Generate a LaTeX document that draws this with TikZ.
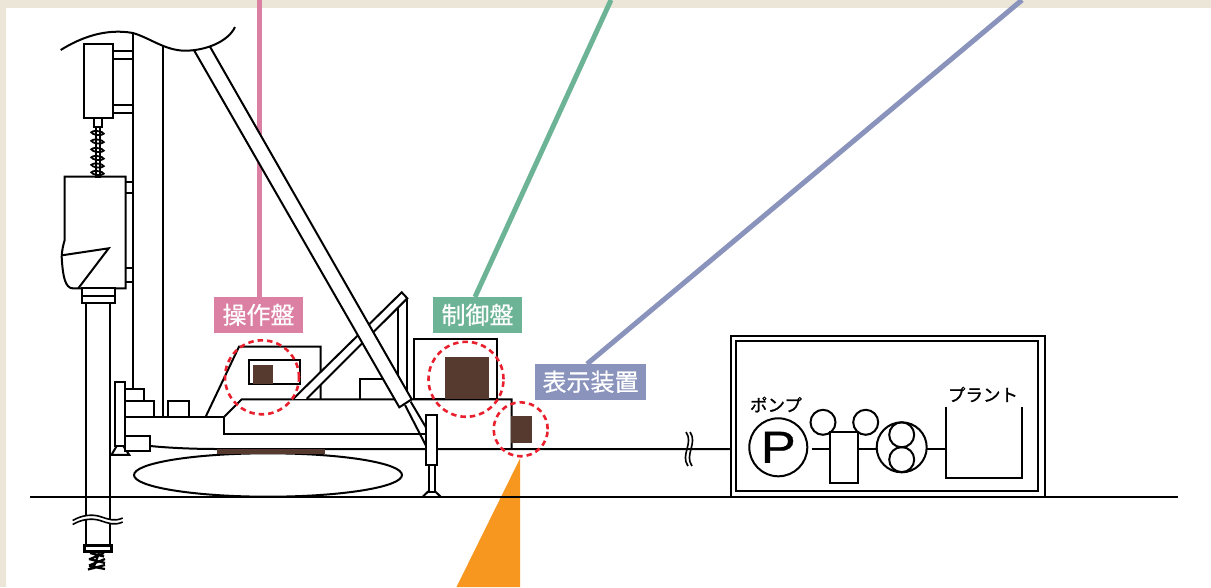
\documentclass[tikz,border=0pt]{standalone}
\usepackage{fontspec}
\newfontfamily\cjk[FakeBold=0.6]{Noto Sans CJK JP}
\newfontfamily\cjkb[FakeBold=1.2]{Noto Sans CJK JP}
\setmainfont{Liberation Sans}
\definecolor{bandc}{HTML}{EBE6D8}
\definecolor{pinkc}{HTML}{DB7FA3}
\definecolor{greenc}{HTML}{6DB497}
\definecolor{bluec}{HTML}{8A93BC}
\definecolor{brownc}{HTML}{563A2F}
\definecolor{orangec}{HTML}{F79720}
\definecolor{redc}{HTML}{E8202E}
\tikzset{
  ln/.style={draw=black,line width=2pt,line join=miter},
  wf/.style={ln,fill=white},
  dashcirc/.style={draw=redc,line width=2.6pt,dash pattern=on 5.5pt off 4pt,fill=none},
  tag/.style={inner sep=0pt,text=white,font=\cjk\fontsize{24}{24}\selectfont},
  leader/.style={line width=5pt},
  small/.style={inner sep=0pt,font=\cjkb\fontsize{17.5}{17.5}\selectfont}
}
\begin{document}
\begin{tikzpicture}[x=1pt,y=-1pt]
\useasboundingbox (0,0) rectangle (1211,587);
\fill[white] (0,0) rectangle (1211,587);
\fill[bandc] (0,0) rectangle (1211,8);
\fill[bandc] (0,0) rectangle (6,587);
% ---- labels
\node[tag,fill=pinkc,minimum width=89pt,minimum height=35.7pt] (ops) at (258.5,314.8) {操作盤};
\node[tag,fill=greenc,minimum width=89pt,minimum height=35.7pt] (ctl) at (477.5,314.8) {制御盤};
\node[tag,fill=bluec,minimum width=111pt,minimum height=35.7pt] (dsp) at (590.5,381.8) {表示装置};
\coordinate (opsTop) at (259,0);
\coordinate (ctlTop) at (611,0);
\coordinate (dspTop) at (1022,0);
\coordinate (ctlFoot) at (475,297);
\coordinate (dspFoot) at (587,364);
\coordinate (opsFoot) at (259,297);
\draw[leader,pinkc] (opsTop) -- (opsFoot);
\draw[leader,greenc] (ctlTop) -- (ctlFoot);
\draw[leader,bluec] (dspTop) -- (dspFoot);
% orange
\fill[orangec] (520,458.5) -- (520,587) -- (456.5,587) -- cycle;
% ground
\draw[ln] (30,496.7) -- (1178,496.7);
% mast
\draw[ln] (132.8,33) -- (132.8,389.5);
\draw[ln] (163.3,46) -- (163.3,416.7);
% upper head
\draw[ln] (112.7,50.7) -- (132.8,50.7) (112.7,58.7) -- (132.8,58.7);
\draw[ln] (112.7,105) -- (132.8,105) (112.7,112.7) -- (132.8,112.7);
\draw[wf] (83.5,44) rectangle (112.7,118);
\draw[wf] (94,118) rectangle (102,127.3);
% spring
\draw[wf] (96,127.3) rectangle (100,176.5);
\foreach \yy in {133,141.5,150,158,165.5,173}
  \draw[line width=1.8pt,rotate around={-6:(97.5,\yy)}] (97.5,\yy) ellipse [x radius=6.2pt,y radius=1.9pt];
% lower head
\draw[ln] (125.7,182) -- (132.8,182) (125.7,192.7) -- (132.8,192.7);
\draw[ln] (125.7,267.7) -- (132.8,267.7) (125.7,281.7) -- (132.8,281.7);
\draw[ln] (72.7,288.3) -- (125.7,288.3) -- (125.7,176.7) -- (64.7,176.7) -- (64.7,240)
  .. controls (62.5,247) and (61,256) .. (62,262)
  .. controls (63,275) and (65,288.3) .. (72.7,288.3);
\draw[ln] (62,255.3) -- (108.7,248.3) -- (78.3,288.3);
% chuck and pipe
\draw[wf] (81.7,288.3) rectangle (115.3,303.3);
\draw[ln] (81.7,296) -- (115.3,296);
\draw[ln] (86,303.3) -- (86,545) (110.3,303.3) -- (110.3,545);
% pipe break
\fill[white] (72.7,520.5) .. controls (82,515) and (92,514) .. (100,516.5)
  .. controls (108,519) and (114,522) .. (122.7,518)
  -- (122.7,522) .. controls (114,526) and (108,523) .. (100,520.5)
  .. controls (92,518) and (82,519) .. (72.7,524.5) -- cycle;
\draw[line width=1.6pt] (72.7,520.5) .. controls (82,515) and (92,514) .. (100,516.5)
  .. controls (108,519) and (114,522) .. (122.7,518);
\draw[line width=1.6pt] (72.7,524.5) .. controls (82,519) and (92,518) .. (100,520.5)
  .. controls (108,523) and (114,526) .. (122.7,522);
% bit
\draw[line width=2.4pt,fill=white] (84.5,545.5) rectangle (111.5,551.5);
\draw[line width=2.2pt] (90,553) -- (104,556.5) (104,553) -- (89,559.5) (89,559) -- (105,563)
  (105,559) -- (89,565.5) (89,566) -- (105,569) (105,565) -- (88,569.5) (99,553) -- (93,569);
% front plate and boxes
\draw[wf] (114.7,381.7) rectangle (125.3,446);
\draw[ln] (116.7,446) -- (111.5,454.8) -- (129.2,454.8) -- (123.3,446);
\draw[wf] (125.3,389.3) rectangle (143.7,401);
\draw[wf] (125.3,401) rectangle (154.3,416.7);
\draw[wf] (167.7,401.3) rectangle (189,416.7);
\draw[wf] (125.3,436) rectangle (150.3,450.7);
\draw[ln] (125.3,416.7) -- (224.3,416.7);
% crawler
\draw[wf] (268,475) ellipse [x radius=134pt,y radius=21.7pt];
\draw[ln] (150.3,446) .. controls (170,448) and (195,449) .. (216.7,449) -- (730,449);
\fill[brownc] (216.7,448.7) rectangle (325.3,453.5);
% cab
\draw[ln] (205.7,416.7) -- (239,346.7) -- (320.7,346.7) -- (320.7,399.3);
\draw[ln] (249.3,360.3) rectangle (300,384);
\fill[brownc] (253.3,365) rectangle (273.3,384);
% deck
\draw[ln] (224.3,416.7) -- (241.7,399.3) -- (511.7,399.3) -- (511.7,449);
\draw[ln] (224.3,416.7) -- (224.3,434) -- (426,434);
% control box
\draw[wf] (414.3,339.3) rectangle (496.7,399.3);
\fill[brownc] (445.3,356.7) rectangle (489.3,399.3);
% small box and post
\draw[ln] (360,399.3) -- (360,379.3) -- (384,379.3);
\draw[ln] (398.3,308.3) -- (398.3,399.3) (407.3,298.3) -- (407.3,399.3);
% brace
\draw[wf] (293.3,398.8) -- (401.7,292.3) -- (407.3,298.3) -- (306.7,398.8);
% boom rod
\draw[ln] (405,405) -- (426.5,446.7) (410.7,401.7) -- (426.5,428.3);
% boom
\draw[wf] (194.3,50.7) -- (399.3,407.3) -- (411.7,399.3) -- (210,46.7);
% wave top
\draw[ln] (60.7,50) .. controls (80,38) and (105,28) .. (133,33)
  .. controls (150,38) and (165,50.5) .. (185,50.7)
  .. controls (205,50.7) and (228,42) .. (235,27);
% jack
\draw[wf] (428.7,465) rectangle (434.7,491.7);
\draw[ln] (428.7,491) -- (422.7,496.7) (434.7,491) -- (440.7,496.7);
\draw[wf] (426.3,415) rectangle (437,465.3);
% display
\fill[brownc] (510.7,415.7) rectangle (531.7,442.7);
% dashed circles
\draw[dashcirc] (262,377.3) circle [radius=37pt];
\draw[dashcirc] (466,379.3) circle [radius=37.5pt];
\draw[dashcirc] (520.7,429.3) circle [radius=27pt];
% plant
\draw[ln] (731,335.7) rectangle (1045,497);
\draw[ln] (736.3,340.7) rectangle (1038.3,490.7);
\draw[ln] (698,448.7) -- (731,448.7);
\draw[line width=1.6pt] (686,432) .. controls (694,443) and (680,455) .. (688,466);
\draw[line width=1.6pt] (690,432) .. controls (698,443) and (684,455) .. (692,466);
\node[circle,ln,minimum size=58pt,inner sep=0pt,font=\fontsize{45}{45}\selectfont\addfontfeature{FakeBold=0.5}] (pump) at (778.3,447.3) {\scalebox{1.17}[1]{P}};
\node[small] (pumpl) at (776,404.5) {ポンプ};
\node[small] (plantl) at (983,394.5) {プラント};
\node[circle,wf,minimum size=25pt,inner sep=0pt] (c1) at (823,422.3) {};
\node[circle,wf,minimum size=25pt,inner sep=0pt] (c2) at (865.7,422.3) {};
\node[rectangle,wf,minimum width=28pt,minimum height=50.7pt,inner sep=0pt] (tank) at (844.3,457.7) {};
\node[circle,wf,minimum size=50pt,inner sep=0pt] (mix) at (901.7,447.3) {};
\node[circle,ln,minimum size=25pt,inner sep=0pt] (m1) at (901.7,434.8) {};
\node[circle,ln,minimum size=25pt,inner sep=0pt] (m2) at (901.7,459.6) {};
\coordinate (pl) at (946,448.7);
\draw[ln] (811.7,448.7) -- (tank.west |- 0,448.7);
\draw[ln] (tank.east |- 0,448.7) -- (876.7,448.7);
\draw[ln] (926.7,448.7) -- (pl);
\draw[ln] (946,406.7) -- (946,478.3) -- (1021.7,478.3) -- (1021.7,406.7);
\end{tikzpicture}
\end{document}
